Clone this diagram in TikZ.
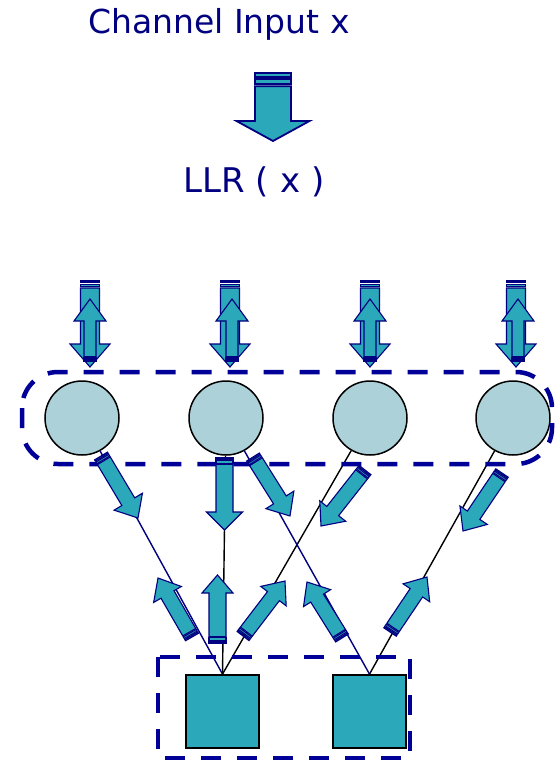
\documentclass[tikz,border=0pt]{standalone}
\usepackage{fontspec}
\setmainfont{DejaVu Sans}
\usepackage{tikz}
\usetikzlibrary{calc}
\definecolor{navy}{rgb}{0,0,0.5}
\definecolor{dashblue}{rgb}{0,0,0.6}
\definecolor{arrowteal}{RGB}{43,168,185}
\definecolor{nodeblue}{RGB}{173,209,217}
\tikzset{var/.style={circle,draw=black,line width=1.5pt,fill=nodeblue,minimum size=74pt,inner sep=0pt}}
\tikzset{chk/.style={rectangle,draw=black,line width=1.8pt,fill=arrowteal,minimum size=73pt,inner sep=0pt}}
\tikzset{grp/.style={draw=dashblue,line width=4.5pt,dash pattern=on 20pt off 16pt}}
\tikzset{fat/.style={draw=navy,fill=arrowteal,line join=miter}}
\tikzset{lbl/.style={text=navy,anchor=base,inner sep=0pt}}
\tikzset{edg/.style={line width=1.4pt}}

% striped block arrow: [line width] tail x, tail y, tip x, tip y, shaft, head, head length
\newcommand{\stripearrow}[8][1.1pt]{%
  \pgfmathsetmacro{\arrlen}{veclen(#4-#2,#5-#3)}%
  \pgfmathsetmacro{\arrang}{atan2(#3-#5,#4-#2)}%
  \pgfmathsetmacro{\arrha}{#6/2}%
  \pgfmathsetmacro{\arrhb}{#7/2}%
  \pgfmathsetmacro{\arrsa}{0.1*#6}%
  \pgfmathsetmacro{\arrsb}{0.17*#6}%
  \pgfmathsetmacro{\arrsc}{0.3*#6}%
  \pgfmathsetmacro{\arrsd}{0.37*#6}%
  \pgfmathsetmacro{\arrhx}{\arrlen-#8}%
  \begin{scope}[shift={(#2,#3)},rotate=\arrang,y=1pt,line width=#1]
    \path[fat] (0,-\arrha) rectangle (\arrsa,\arrha);
    \path[fat] (\arrsb,-\arrha) rectangle (\arrsc,\arrha);
    \path[fat] (\arrsd,-\arrha) -- (\arrhx,-\arrha) -- (\arrhx,-\arrhb) -- (\arrlen,0)
      -- (\arrhx,\arrhb) -- (\arrhx,\arrha) -- (\arrsd,\arrha) -- cycle;
  \end{scope}}

\begin{document}
\begin{tikzpicture}[x=1pt,y=-1pt]
  \useasboundingbox (0,0) rectangle (556,761);

  % labels
  \node[lbl,font=\fontsize{33}{39}\selectfont] (inp) at (219,33) {Channel Input x};
  \node[lbl,font=\fontsize{34}{40}\selectfont] (llr) at (254,192) {LLR ( x )};
  \stripearrow[1.8pt]{273}{73}{273}{141}{36}{73}{20}

  % variable and check nodes
  \node[var] (v1) at (82,418) {};
  \node[var] (v2) at (226,418) {};
  \node[var] (v3) at (370,418) {};
  \node[var] (v4) at (513,418) {};
  \node[chk] (c1) at (222.5,711.5) {};
  \node[chk] (c2) at (369.5,711.5) {};

  % edges
  \draw[edg,navy] (v1) -- (c1.north);
  \draw[edg] (v2) -- (c1.north);
  \draw[edg] (v3) -- (c1.north);
  \draw[edg,navy] (v2) -- (c2.north);
  \draw[edg] (v4) -- (c2.north);

  % groups
  \draw[grp,rounded corners=36pt] (22,372) rectangle (552,464);
  \draw[grp] (158,657) rectangle (410,758);

  % channel messages into the variable nodes
  \foreach \x/\u in {90/90,230/232,370/370,516/518}{
    \stripearrow{\x}{281}{\x}{367}{19}{40}{23}
    \stripearrow{\u}{361}{\u}{299}{12}{32}{22}
  }

  % variable to check
  \stripearrow{101}{456}{138}{518}{15}{33}{19}
  \stripearrow{224.5}{458}{224.5}{530}{17}{36}{18}
  \stripearrow{253}{457}{290}{516}{15}{33}{19}
  \stripearrow{365}{470}{321}{526}{15}{33}{19}
  \stripearrow{502}{473}{463}{531}{15}{33}{19}

  % check to variable
  \stripearrow{192}{637}{158}{578}{15}{32}{19}
  \stripearrow{217.5}{643}{217.5}{575}{17}{31}{18}
  \stripearrow{243}{636}{285}{581}{15}{32}{19}
  \stripearrow{342}{638}{307}{582}{15}{32}{19}
  \stripearrow{390}{632}{427}{577}{15}{32}{19}
\end{tikzpicture}
\end{document}
